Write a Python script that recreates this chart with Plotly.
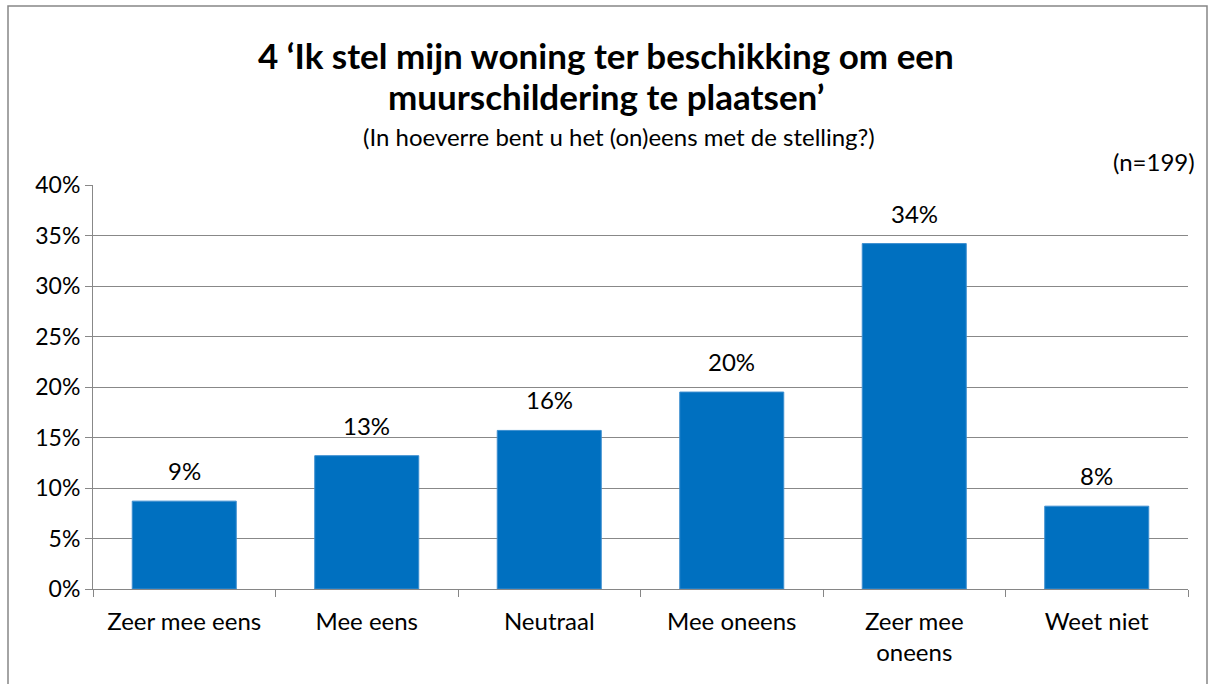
import plotly.graph_objects as go

categories = ["Zeer mee eens", "Mee eens", "Neutraal", "Mee oneens", "Zeer mee<br>oneens", "Weet niet"]
values = [0.087, 0.132, 0.157, 0.195, 0.342, 0.082]
y_ticks = [0, 0.05, 0.10, 0.15, 0.20, 0.25, 0.30, 0.35, 0.40]
y_tick_labels = ["0%", "5%", "10%", "15%", "20%", "25%", "30%", "35%", "40%"]

FONT = "Lato"
W, H = 1212, 684
L, R, T, B = 93, 24, 185, 95
pw, ph = W - L - R, H - T - B

def px_x(p):
    return (p - L) / pw

def px_y(p):
    return (H - B - p) / ph

fig = go.Figure(go.Bar(
    x=categories, y=values,
    marker=dict(color="#0070C0", line=dict(color="#3D8FD0", width=1)),
    hoverinfo="x+y",
))

label_annotations = [
    dict(x=c, y=v, xref="x", yref="y", text=f"{round(v * 100):.0f}%", showarrow=False,
         yanchor="bottom", yshift=14, font=dict(family=FONT, size=24, color="#000000"))
    for c, v in zip(categories, values)
]

fig.update_layout(
    width=W, height=H,
    margin=dict(l=L, r=R, t=T, b=B),
    paper_bgcolor="white", plot_bgcolor="white",
    bargap=0.43,
    showlegend=False,
    font=dict(family=FONT, size=24, color="#000000"),
    xaxis=dict(
        type="category", showgrid=False, showline=True, linecolor="#868686", linewidth=1,
        ticks="outside", tickson="boundaries", ticklen=7, tickcolor="#868686",
        tickfont=dict(family=FONT, size=24), ticklabelstandoff=11,
    ),
    yaxis=dict(
        range=[0, 0.40], tickvals=y_ticks, ticktext=y_tick_labels,
        showgrid=True, gridcolor="#888888", gridwidth=1.4,
        showline=True, linecolor="#888888", linewidth=1,
        ticks="outside", ticklen=7, tickcolor="#888888",
        tickfont=dict(family=FONT, size=23), zeroline=False,
    ),
    shapes=[dict(type="rect", xref="paper", yref="paper",
                 x0=px_x(8), x1=px_x(1207), y0=px_y(700), y1=px_y(6),
                 line=dict(color="#868686", width=1.5), fillcolor="rgba(0,0,0,0)", layer="below")],
    annotations=label_annotations + [
        dict(text="<b>4 ‘Ik stel mijn woning ter beschikking om een</b>", xref="paper", yref="paper",
             x=px_x(606), y=px_y(55), xanchor="center", yanchor="middle", showarrow=False,
             font=dict(family=FONT, size=35)),
        dict(text="<b>muurschildering te plaatsen’</b>", xref="paper", yref="paper",
             x=px_x(606), y=px_y(96), xanchor="center", yanchor="middle", showarrow=False,
             font=dict(family=FONT, size=35)),
        dict(text="(In hoeverre bent u het (on)eens met de stelling?)", xref="paper", yref="paper",
             x=px_x(619), y=px_y(137), xanchor="center", yanchor="middle", showarrow=False,
             font=dict(family=FONT, size=24)),
        dict(text="(n=199)", xref="paper", yref="paper",
             x=px_x(1197), y=px_y(162), xanchor="right", yanchor="middle", showarrow=False,
             font=dict(family=FONT, size=24)),
    ],
)

fig.write_html("out.html", config={"displayModeBar": False},
               post_script="document.body.style.margin='0';document.body.style.overflow='hidden';")
